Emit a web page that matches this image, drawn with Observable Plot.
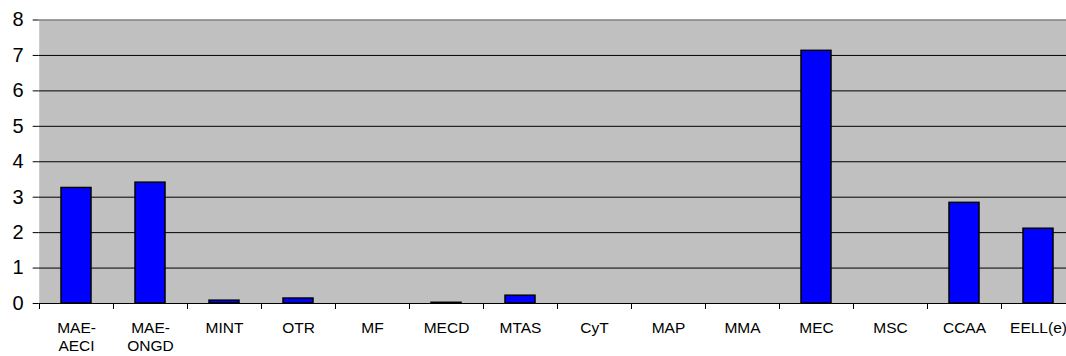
<!DOCTYPE html>
<html>
<head>
<meta charset="utf-8">
<script src="https://cdn.jsdelivr.net/npm/d3@7"></script>
<script src="https://cdn.jsdelivr.net/npm/@observablehq/plot@0.6"></script>
<style>
  html, body { margin: 0; padding: 0; background: #fff; overflow: hidden; }
  #chart svg { overflow: visible; display: block; }
</style>
</head>
<body>
<div id="chart"></div>
<script>
const categories = ["MAE-\nAECI", "MAE-\nONGD", "MINT", "OTR", "MF", "MECD", "MTAS", "CyT", "MAP", "MMA", "MEC", "MSC", "CCAA", "EELL(e)"];
const values = [3.26, 3.41, 0.08, 0.14, 0, 0.02, 0.22, 0, 0, 0, 7.13, 0, 2.84, 2.11];
const yTicks = [0, 1, 2, 3, 4, 5, 6, 7, 8];
const gridValues = [1, 2, 3, 4, 5, 6, 7];

const data = categories.map((c, i) => ({cat: c, v: values[i]}));
const font = "'Liberation Sans', Arial, sans-serif";

const chart = Plot.plot({
  width: 1066,
  height: 356,
  marginLeft: 38.7,
  marginRight: -8.7,
  marginTop: 19.5,
  marginBottom: 53,
  style: {fontFamily: font, color: "#000", background: "transparent", overflow: "visible"},
  x: {type: "band", domain: categories, paddingInner: 0.6, paddingOuter: 0.3, axis: null},
  y: {domain: [0, 8], axis: null},
  marks: [
    Plot.frame({fill: "#c0c0c0", stroke: null}),
    Plot.ruleY(gridValues, {stroke: "#000", strokeWidth: 1}),
    Plot.ruleY([8], {stroke: "#808080", strokeWidth: 1.5}),
    Plot.barY(data, {x: "cat", y: "v", fill: "#0000ff", stroke: "#000", strokeWidth: 1.5, filter: d => d.v > 0}),
    Plot.ruleY([0], {stroke: "#000", strokeWidth: 1}),
    Plot.axisY({ticks: yTicks, tickSize: 6, tickFormat: () => "", stroke: "#000", strokeWidth: 1, strokeOpacity: 1, label: null}),
    Plot.text(yTicks, {y: d => d, frameAnchor: "left", textAnchor: "end", dx: -15.5, fontSize: 20, fill: "#000", text: d => String(d)}),
    Plot.ruleX([0], {x: () => 0, stroke: "#000"}),
    Plot.ruleX(categories, {x: d => d, y1: 0, y2: 0, dx: -37, insetBottom: -6, stroke: "#000", strokeWidth: 1}),
    Plot.text(categories, {x: d => d, frameAnchor: "bottom", lineAnchor: "top", dy: 17, fontSize: 15.5, lineHeight: 1.15, fill: "#000", text: d => d})
  ]
});
document.getElementById("chart").appendChild(chart);
</script>
</body>
</html>
